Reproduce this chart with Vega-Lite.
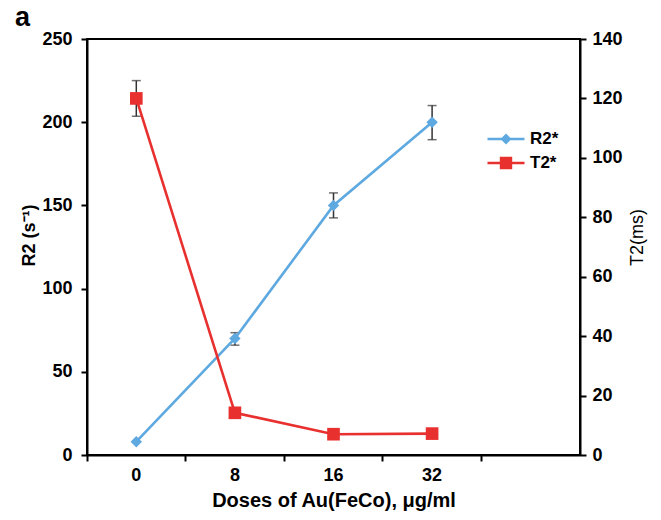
{
  "$schema": "https://vega.github.io/schema/vega-lite/v6.json",
  "width": 493,
  "height": 416,
  "autosize": "none",
  "padding": {"left": 87, "top": 39, "right": 81, "bottom": 65},
  "background": "white",
  "config": {
    "font": "Liberation Sans",
    "view": {"stroke": "black", "strokeWidth": 2},
    "axis": {
      "domainColor": "black", "domainWidth": 2,
      "tickColor": "black", "tickWidth": 2, "tickSize": 6,
      "labelFont": "Liberation Sans", "labelFontSize": 18, "labelFontWeight": "bold", "labelColor": "black",
      "titleFont": "Liberation Sans", "titleFontSize": 18, "titleFontWeight": "bold", "titleColor": "black",
      "grid": false
    }
  },
  "title": {"text": "a", "anchor": "start", "frame": "group", "fontSize": 27, "fontWeight": "bold", "font": "Liberation Sans", "color": "black", "dx": -72, "dy": 29, "offset": 6, "baseline": "alphabetic"},
  "data": {"values": [
    {"dose": "0", "series": "R2*", "value": 8},
    {"dose": "8", "series": "R2*", "value": 70, "lo": 66, "hi": 73.5},
    {"dose": "16", "series": "R2*", "value": 150, "lo": 142.5, "hi": 157.5},
    {"dose": "32", "series": "R2*", "value": 200, "lo": 189.5, "hi": 210},
    {"dose": "0", "series": "T2*", "value": 120, "lo": 114, "hi": 126},
    {"dose": "8", "series": "T2*", "value": 14.2},
    {"dose": "16", "series": "T2*", "value": 7},
    {"dose": "32", "series": "T2*", "value": 7.2}
  ]},
  "encoding": {
    "x": {
      "field": "dose", "type": "ordinal",
      "scale": {"type": "band", "domain": ["0", "8", "16", "32", "_"], "paddingInner": 0, "paddingOuter": 0},
      "axis": {"title": "Doses of Au(FeCo), μg/ml", "labelExpr": "datum.value == '_' ? '' : datum.value", "bandPosition": 0, "labelAngle": 0, "labelPadding": 5, "titlePadding": 6, "titleFontSize": 20}
    }
  },
  "layer": [
    {
      "transform": [{"filter": "datum.series == 'R2*'"}],
      "encoding": {
        "y": {"field": "value", "type": "quantitative", "scale": {"domain": [0, 250]},
              "axis": {"orient": "left", "title": "R2 (s⁻¹)", "values": [0, 50, 100, 150, 200, 250], "labelPadding": 9, "titlePadding": 3, "titleY": 196}}
      },
      "layer": [
        {"transform": [{"filter": "isValid(datum.lo)"}],
         "mark": {"type": "errorbar", "ticks": {"size": 9, "thickness": 1.5, "color": "#333"}, "thickness": 1.5, "color": "#333"},
         "encoding": {"y": {"field": "lo", "type": "quantitative", "title": "R2 (s⁻¹)"}, "y2": {"field": "hi"}}},
        {"mark": {"type": "line", "color": "#5ea9e0", "strokeWidth": 2.6}, "encoding": {}},
        {"mark": {"type": "point", "filled": true, "shape": "diamond", "size": 130, "opacity": 1},
         "encoding": {"color": {"field": "series", "type": "nominal",
           "scale": {"domain": ["R2*", "T2*"], "range": ["#5ea9e0", "#e8302e"]},
           "legend": {"title": null, "orient": "none", "legendX": 409, "legendY": 90, "symbolSize": 400, "symbolStrokeWidth": 0, "symbolOpacity": 1,
             "labelFontSize": 17, "labelFontWeight": "bold", "labelFont": "Liberation Sans", "labelColor": "black", "labelOffset": 14, "rowPadding": 6, "padding": 0,
             "encode": {"symbols": {"update": {"shape": {"signal": "datum.value === 'R2*' ? 'M-1.85,-0.12H1.85V0.12H-1.85Z M0,-0.55L0.55,0L0,0.55L-0.55,0Z' : 'M-1.85,-0.12H1.85V0.12H-1.85Z M-0.62,-0.62H0.62V0.62H-0.62Z'"}}}}}}}}
      ]
    },
    {
      "transform": [{"filter": "datum.series == 'T2*'"}],
      "encoding": {
        "y": {"field": "value", "type": "quantitative", "scale": {"domain": [0, 140]},
              "axis": {"orient": "right", "title": "T2(ms)", "values": [0, 20, 40, 60, 80, 100, 120, 140], "labelPadding": 6, "titlePadding": 6, "titleAngle": 270, "titleBaseline": "top", "titleY": 198, "titleFontWeight": "normal"}}
      },
      "layer": [
        {"transform": [{"filter": "isValid(datum.lo)"}],
         "mark": {"type": "errorbar", "ticks": {"size": 9, "thickness": 1.5, "color": "#333"}, "thickness": 1.5, "color": "#333"},
         "encoding": {"y": {"field": "lo", "type": "quantitative", "title": "T2(ms)"}, "y2": {"field": "hi"}}},
        {"mark": {"type": "line", "color": "#e8302e", "strokeWidth": 2.6}, "encoding": {}},
        {"mark": {"type": "point", "filled": true, "shape": "square", "size": 160, "opacity": 1},
         "encoding": {"color": {"field": "series", "type": "nominal",
           "scale": {"domain": ["R2*", "T2*"], "range": ["#5ea9e0", "#e8302e"]},
           "legend": {"title": null, "orient": "none", "legendX": 409, "legendY": 90, "symbolSize": 400, "symbolStrokeWidth": 0, "symbolOpacity": 1,
             "labelFontSize": 17, "labelFontWeight": "bold", "labelFont": "Liberation Sans", "labelColor": "black", "labelOffset": 14, "rowPadding": 6, "padding": 0,
             "encode": {"symbols": {"update": {"shape": {"signal": "datum.value === 'R2*' ? 'M-1.85,-0.12H1.85V0.12H-1.85Z M0,-0.55L0.55,0L0,0.55L-0.55,0Z' : 'M-1.85,-0.12H1.85V0.12H-1.85Z M-0.62,-0.62H0.62V0.62H-0.62Z'"}}}}}}}}
      ]
    }
  ],
  "resolve": {"scale": {"y": "independent"}}
}
